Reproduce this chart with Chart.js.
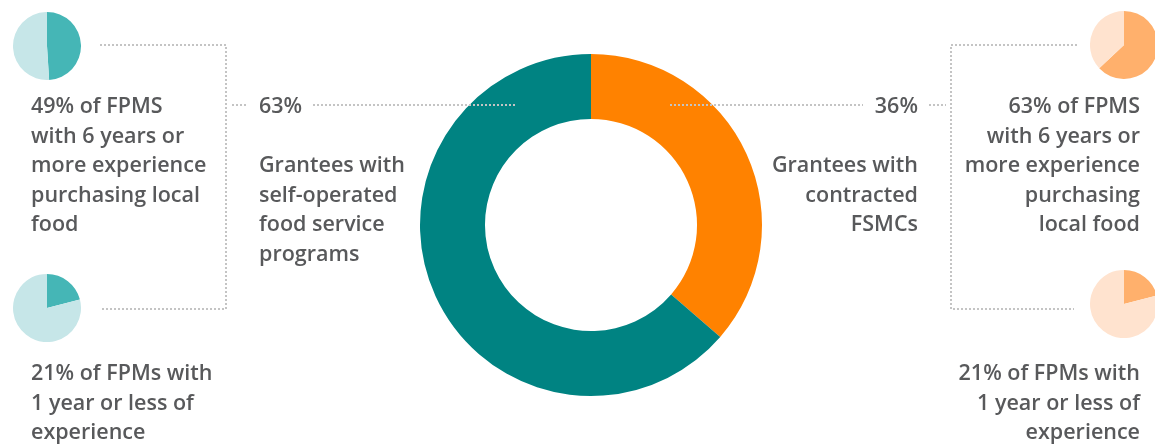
<!DOCTYPE html>
<html>
<head>
<meta charset="utf-8">
<script src="https://cdn.jsdelivr.net/npm/chart.js@4"></script>
<style>
    body { margin: 0; width: 1155px; height: 444px; overflow: hidden; background: #fff; position: relative; }
    canvas { position: absolute; }
    .txt { position: absolute; font-family: "Open Sans", sans-serif; font-weight: 600; font-size: 21.5px; line-height: 29.6px; color: #58595b; white-space: nowrap; }
    .r { text-align: right; }
</style>
</head>
<body>
<canvas id="main" width="1155" height="444" style="left:0;top:0"></canvas>
<canvas id="pL1" width="68" height="68" style="left:13px;top:12px"></canvas>
<canvas id="pL2" width="68" height="68" style="left:13px;top:274px"></canvas>
<canvas id="pR1" width="68" height="68" style="left:1090px;top:11px"></canvas>
<canvas id="pR2" width="68" height="68" style="left:1090px;top:270px"></canvas>

<div class="txt" style="left:31px;top:90px">49% of FPMS<br>with 6 years or<br>more experience<br>purchasing local<br>food</div>
<div class="txt" style="left:31px;top:357px">21% of FPMs with<br>1 year or less of<br>experience</div>
<div class="txt" style="left:259px;top:90px">63%</div>
<div class="txt" style="left:259px;top:149px">Grantees with<br>self-operated<br>food service<br>programs</div>
<div class="txt r" style="right:237px;top:90px">36%</div>
<div class="txt r" style="right:237px;top:149px">Grantees with<br>contracted<br>FSMCs</div>
<div class="txt r" style="right:15px;top:90px">63% of FPMS<br>with 6 years or<br>more experience<br>purchasing<br>local food</div>
<div class="txt r" style="right:15px;top:357px">21% of FPMs with<br>1 year or less of<br>experience</div>

<script>
// data ===============================================================
const mainLabels = ["Grantees with contracted FSMCs", "Grantees with self-operated food service programs"];
const mainValues = [36, 63];
const mainColors = ["#ff8200", "#008382"];

const tealExp6 = [49, 51];   // self-operated: 6+ years
const tealExp1 = [21, 79];   // self-operated: 1 year or less
const orangeExp6 = [63, 37]; // contracted: 6+ years
const orangeExp1 = [21, 79]; // contracted: 1 year or less

const tealPie = ["#45b6b6", "#c6e6e8"];
const orangePie = ["#ffb06c", "#ffe3cf"];

// connector lines ===============================================================
function dotted(ctx, pts) {
    ctx.beginPath();
    ctx.moveTo(pts[0][0], pts[0][1]);
    for (let i = 1; i < pts.length; i++) ctx.lineTo(pts[i][0], pts[i][1]);
    ctx.stroke();
}
const connectors = {
    id: 'connectors',
    afterDraw(chart) {
        const ctx = chart.ctx;
        ctx.save();
        ctx.strokeStyle = '#c4c4c4';
        ctx.lineWidth = 2;
        ctx.setLineDash([2, 2]);
        // left bracket
        dotted(ctx, [[100, 45], [226, 45], [226, 309], [102, 309]]);
        dotted(ctx, [[232, 105], [248, 105]]);
        dotted(ctx, [[313, 105], [516, 105]]);
        // right bracket
        dotted(ctx, [[1077, 45], [951, 45], [951, 309], [1074, 309]]);
        dotted(ctx, [[929, 105], [946, 105]]);
        dotted(ctx, [[670, 105], [863, 105]]);
        ctx.restore();
    }
};

// charts ===============================================================
new Chart(document.getElementById("main"), {
    type: "doughnut",
    data: { labels: mainLabels, datasets: [{ data: mainValues, backgroundColor: mainColors, borderWidth: 0 }] },
    options: {
        responsive: false,
        animation: false,
        cutout: "62%",
        layout: { padding: { left: 420, right: 393, top: 54, bottom: 48 } },
        plugins: { legend: { display: false }, tooltip: { enabled: false } }
    },
    plugins: [connectors]
});

function smallPie(id, values, colors) {
    new Chart(document.getElementById(id), {
        type: "pie",
        data: { labels: ["share", "rest"], datasets: [{ data: values, backgroundColor: colors, borderWidth: 0 }] },
        options: {
            responsive: false,
            animation: false,
            plugins: { legend: { display: false }, tooltip: { enabled: false } }
        }
    });
}
smallPie("pL1", tealExp6, tealPie);
smallPie("pL2", tealExp1, tealPie);
smallPie("pR1", orangeExp6, orangePie);
smallPie("pR2", orangeExp1, orangePie);
</script>
</body>
</html>
